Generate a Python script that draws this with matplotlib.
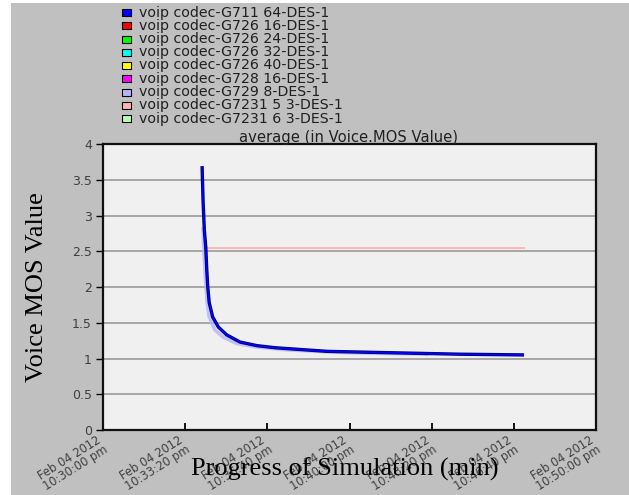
import matplotlib
matplotlib.use("Agg")
import matplotlib.pyplot as plt
from matplotlib.patches import Rectangle
from matplotlib.transforms import ScaledTranslation

# Legend entries (series names and colours)
series_names = [
    "voip codec-G711 64-DES-1",
    "voip codec-G726 16-DES-1",
    "voip codec-G726 24-DES-1",
    "voip codec-G726 32-DES-1",
    "voip codec-G726 40-DES-1",
    "voip codec-G728 16-DES-1",
    "voip codec-G729 8-DES-1",
    "voip codec-G7231 5 3-DES-1",
    "voip codec-G7231 6 3-DES-1",
]
series_colors = ["#0000ff", "#ff0000", "#00ff00", "#00ffff", "#ffff00",
                 "#ff00ff", "#b4b4ff", "#ffb4b4", "#b4ffb4"]

# Time in minutes after 10:30:00 pm
g711_t = [4.02, 4.06, 4.11, 4.17, 4.21, 4.25, 4.31, 4.45, 4.68, 5.02, 5.56,
          6.24, 7.00, 9.09, 11.76, 14.48, 17.08]
g711_v = [3.69, 3.20, 2.80, 2.55, 2.24, 2.00, 1.78, 1.58, 1.44, 1.33, 1.23,
          1.18, 1.15, 1.10, 1.08, 1.06, 1.05]

g729_t = [4.06, 4.10, 4.18, 4.23, 4.31, 4.54, 4.87, 5.42, 6.24, 7.50, 10.0, 13.2]
g729_v = [2.84, 2.45, 2.00, 1.78, 1.58, 1.40, 1.30, 1.21, 1.16, 1.12, 1.08, 1.06]

g7231_53_t = [4.14, 8.0, 12.0, 17.08]
g7231_53_v = [2.54, 2.54, 2.54, 2.54]

x_ticks = [0, 10 / 3, 20 / 3, 10, 40 / 3, 50 / 3, 20]
x_tick_labels = ["Feb 04 2012\n10:30:00 pm", "Feb 04 2012\n10:33:20 pm",
                 "Feb 04 2012\n10:36:40 pm", "Feb 04 2012\n10:40:00 pm",
                 "Feb 04 2012\n10:43:20 pm", "Feb 04 2012\n10:46:40 pm",
                 "Feb 04 2012\n10:50:00 pm"]
y_ticks = [0, 0.5, 1, 1.5, 2, 2.5, 3, 3.5, 4]
y_tick_labels = ["0", "0.5", "1", "1.5", "2", "2.5", "3", "3.5", "4"]

W, H = 629, 495
fig = plt.figure(figsize=(W / 100, H / 100), dpi=100, facecolor="white")

# grey panel behind everything
fig.patches.append(Rectangle((11 / W, 0), 1 - 11 / W, 1 - 3 / H,
                             transform=fig.transFigure, facecolor="#c0c0c0",
                             edgecolor="none", zorder=-10))

ax = fig.add_axes([103 / W, 1 - 430 / H, 493 / W, 286 / H])
ax.set_facecolor("#f0f0f0")
ax.set_xlim(0, 20)
ax.set_ylim(0, 4)

for y in y_ticks[1:-1]:
    ax.axhline(y, color="#a0a0a0", lw=1.3, zorder=1)

ax.plot(g7231_53_t, g7231_53_v, color=series_colors[7], lw=1.4, zorder=3)
ax.plot(g729_t, g729_v, color=series_colors[6], lw=2.6, alpha=0.8, zorder=3,
        solid_capstyle="butt", solid_joinstyle="round")
ax.plot(g711_t, g711_v, color="#000060", lw=2.4, zorder=4,
        solid_capstyle="butt", solid_joinstyle="round")
ax.plot(g711_t, g711_v, color=series_colors[0], lw=1.3, zorder=5,
        solid_capstyle="butt", solid_joinstyle="round")

ax.set_xticks(x_ticks)
ax.set_xticklabels(x_tick_labels, rotation=32, ha="right", va="top",
                   rotation_mode="anchor", fontsize=8.3, color="#404040",
                   family="DejaVu Sans", linespacing=0.95, multialignment="center")
ax.tick_params(axis="x", direction="in", length=5, width=1.3, pad=2)
shift = ScaledTranslation(-6 / 100, 0, fig.dpi_scale_trans)
for lbl in ax.get_xticklabels():
    lbl.set_transform(lbl.get_transform() + shift)

ax.set_yticks(y_ticks)
ax.set_yticklabels(y_tick_labels, fontsize=9, color="#404040", family="DejaVu Sans")
ax.tick_params(axis="y", direction="out", length=5, width=1, pad=3)

for side in ["left", "bottom", "right", "top"]:
    ax.spines[side].set_color("#101010")
    ax.spines[side].set_linewidth(1.6)

fig.text(349 / W, 1 - 137.5 / H, "average (in Voice.MOS Value)", ha="center",
         va="center", fontsize=10.6, family="DejaVu Sans", color="#202020")

fig.text(37 / W, 1 - 287 / H, "Voice MOS Value", rotation=90, ha="center",
         va="center", fontsize=19, family="Liberation Serif", color="black")
fig.text(345 / W, 1 - 469 / H, "Progress of Simulation (min)", ha="center",
         va="center", fontsize=19, family="Liberation Serif", color="black")

# legend block
for i, (name, col) in enumerate(zip(series_names, series_colors)):
    yc = 12.5 + 13.25 * i
    fig.patches.append(Rectangle((122 / W, 1 - (yc + 3.5) / H), 9 / W, 7 / H,
                                 transform=fig.transFigure, facecolor=col,
                                 edgecolor="black", lw=0.8))
    fig.text(139 / W, 1 - yc / H, name, ha="left", va="center", fontsize=10.2,
             family="DejaVu Sans", color="#202020")

fig.savefig("out.png", dpi=100, facecolor="white")
